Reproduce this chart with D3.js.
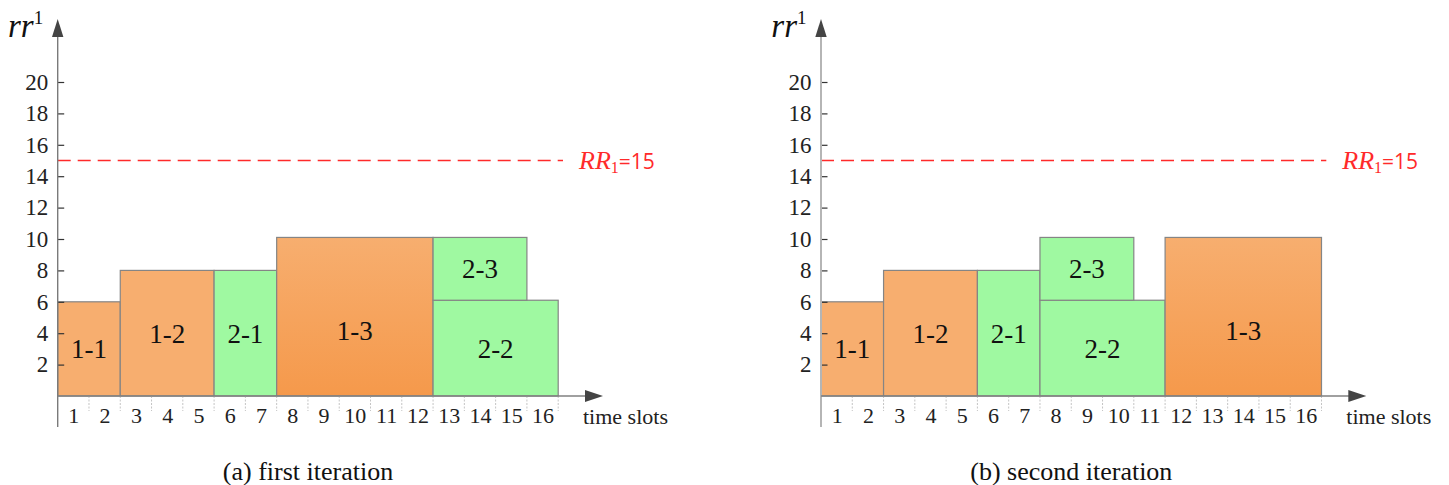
<!DOCTYPE html>
<html>
<head>
<meta charset="utf-8">
<script src="https://cdn.jsdelivr.net/npm/d3@7/dist/d3.min.js"></script>
<style>
  html, body { margin: 0; padding: 0; background: #fff; }
  svg { display: block; }
</style>
</head>
<body>
<svg id="chart" width="1449" height="485"></svg>
<script>
// Time slot tick labels and resource tick values
const slotLabels = d3.range(1, 17);
const yTickValues = [2, 4, 6, 8, 10, 12, 14, 16, 18, 20];
const resourceLimit = 15;

// (a) first iteration: task blocks
const namesA = ["1-1", "1-2", "2-1", "1-3", "2-2", "2-3"];
const startA = [0, 2, 5, 7, 12, 12];
const spanA  = [2, 3, 2, 5, 4, 3];
const baseA  = [0, 0, 0, 0, 0, 6.1];
const topA   = [6, 8, 8, 10.1, 6.1, 10.1];

// (b) second iteration: task blocks
const namesB = ["1-1", "1-2", "2-1", "2-2", "2-3", "1-3"];
const startB = [0, 2, 5, 7, 7, 11];
const spanB  = [2, 3, 2, 4, 3, 5];
const baseB  = [0, 0, 0, 0, 6.1, 0];
const topB   = [6, 8, 8, 6.1, 10.1, 10.1];

const captions = ["(a) first iteration", "(b) second iteration"];

const SERIF = '"Liberation Serif"';
const SANS = '"Open Sans"';

const svg = d3.select("#chart");

const defs = svg.append("defs");
const grad = defs.append("linearGradient")
  .attr("id", "orangeShade").attr("x1", 0).attr("y1", 0).attr("x2", 0).attr("y2", 1);
grad.append("stop").attr("offset", "0%").attr("stop-color", "#F7AE6F");
grad.append("stop").attr("offset", "100%").attr("stop-color", "#F5994B");

function drawPanel(ox, names, start, span, base, top, caption, axisColor, axisWidth) {
  const g = svg.append("g").attr("transform", `translate(${ox},0)`);
  const x = d3.scaleLinear().domain([0, 16]).range([57.7, 558.2]);
  const y = d3.scaleLinear().domain([0, 20]).range([396, 82]);

  const blocks = names.map((n, i) => ({
    name: n, s: start[i], w: span[i], b: base[i], t: top[i]
  }));

  // task blocks
  g.selectAll("rect.block").data(blocks).join("rect")
    .attr("class", "block")
    .attr("x", d => x(d.s))
    .attr("y", d => y(d.t))
    .attr("width", d => x(d.s + d.w) - x(d.s))
    .attr("height", d => y(d.b) - y(d.t))
    .attr("fill", d => d.name.startsWith("1") ? (d.name === "1-3" ? "url(#orangeShade)" : "#F7AE6F") : "#9FF9A1")
    .attr("stroke", "#858585")
    .attr("stroke-width", 1.2);

  g.selectAll("text.label").data(blocks).join("text")
    .attr("class", "label")
    .attr("x", d => x(d.s + d.w / 2))
    .attr("y", d => y(d.b + Math.min(d.t - d.b, 8.4) / 2))
    .attr("dy", "0.35em")
    .attr("text-anchor", "middle")
    .style("font-family", SERIF)
    .style("font-size", "27px")
    .attr("fill", "#111")
    .text(d => d.name);

  // slot separators below the time axis
  g.selectAll("line.sep").data(d3.range(1, 17)).join("line")
    .attr("class", "sep")
    .attr("x1", d => x(d)).attr("x2", d => x(d))
    .attr("y1", y(0)).attr("y2", y(0) + 15)
    .attr("stroke", "#c4c4c4").attr("stroke-width", 1)
    .attr("stroke-dasharray", "2,1.5");

  // x tick labels at slot centres
  const xAxis = d3.axisBottom(x)
    .tickValues(slotLabels.map(v => v - 0.5))
    .tickFormat(v => String(v + 0.5))
    .tickSize(0).tickPadding(11);
  const xa = g.append("g").attr("transform", `translate(0,${y(0)})`).call(xAxis);
  xa.select(".domain").remove();
  xa.selectAll("text").style("font-family", SERIF).style("font-size", "22px").attr("fill", "#222");

  // y ticks: marks to the right, labels to the left
  const yAxis = d3.axisLeft(y).tickValues(yTickValues).tickSizeInner(-6.5).tickSizeOuter(0).tickPadding(9.5);
  const ya = g.append("g").attr("transform", `translate(${x(0)},0)`).call(yAxis);
  ya.select(".domain").remove();
  ya.selectAll("line").attr("stroke", "#333").attr("stroke-width", 1.2);
  ya.selectAll("text").style("font-family", SERIF).style("font-size", "23px").attr("fill", "#222");

  // resource limit line
  g.append("line")
    .attr("x1", x(0)).attr("x2", 563)
    .attr("y1", y(resourceLimit)).attr("y2", y(resourceLimit))
    .attr("stroke", "#FF2A2A").attr("stroke-width", 1.6)
    .attr("stroke-dasharray", "13,7");

  const lim = g.append("text")
    .attr("x", 579).attr("y", y(resourceLimit) + 8)
    .attr("fill", "#FF2A2A");
  lim.append("tspan").style("font-family", SERIF).style("font-style", "italic").style("font-size", "26px").text("RR");
  lim.append("tspan").style("font-family", SERIF).style("font-size", "16px").attr("dy", 4).text("1");
  lim.append("tspan").style("font-family", SANS).style("font-size", "21px").attr("dy", -4).text("=" + resourceLimit);

  // axes with arrowheads
  g.append("line")
    .attr("x1", x(0)).attr("x2", x(0)).attr("y1", 427).attr("y2", 36)
    .attr("stroke", axisColor).attr("stroke-width", axisWidth);
  g.append("path")
    .attr("d", `M${x(0) - 5.7},37 L${x(0) + 5.7},37 L${x(0)},19 Z`)
    .attr("fill", "#444");
  g.append("line")
    .attr("x1", x(0)).attr("x2", 586).attr("y1", y(0)).attr("y2", y(0))
    .attr("stroke", "#808080").attr("stroke-width", 1.4);
  g.append("path")
    .attr("d", `M585,${y(0) - 6} L585,${y(0) + 6} L603,${y(0)} Z`)
    .attr("fill", "#444");

  g.append("text")
    .attr("x", 583).attr("y", 424)
    .style("font-family", SERIF)
    .style("font-size", "22px").attr("fill", "#222")
    .text("time slots");

  const yl = g.append("text").attr("x", 8).attr("y", 37).attr("fill", "#111");
  yl.append("tspan").style("font-family", SERIF).style("font-style", "italic").style("font-size", "33px").text("rr");
  yl.append("tspan").style("font-family", SERIF).style("font-size", "19px").attr("dy", -13).text("1");

  g.append("text")
    .attr("x", 308).attr("y", 480)
    .attr("text-anchor", "middle")
    .style("font-family", SERIF)
    .style("font-size", "26px").attr("fill", "#111")
    .text(caption);
}

drawPanel(0, namesA, startA, spanA, baseA, topA, captions[0], "#7a7a7a", 1.4);
drawPanel(763.3, namesB, startB, spanB, baseB, topB, captions[1], "#b5b5b5", 2);
</script>
</body>
</html>
